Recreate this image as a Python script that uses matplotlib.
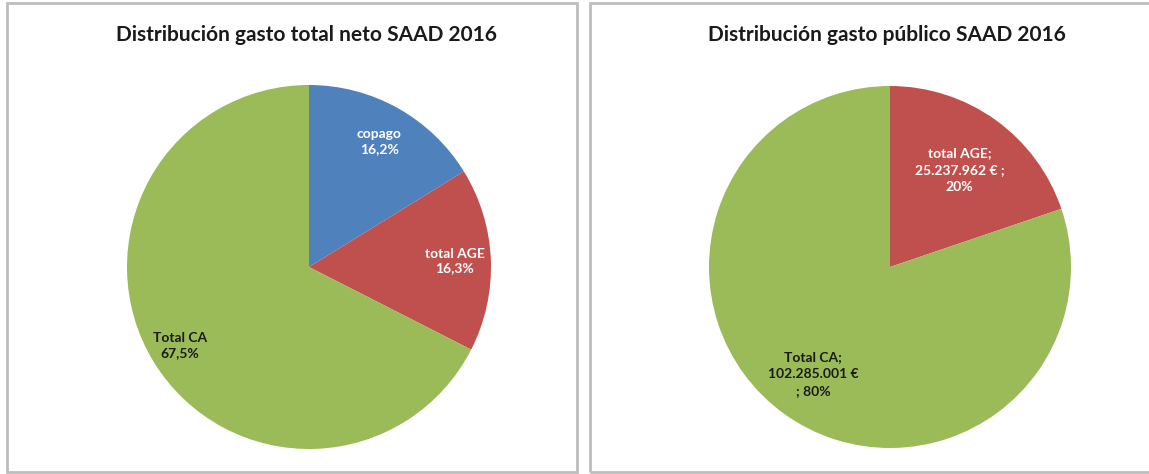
import numpy as np
import matplotlib
matplotlib.use('Agg')
import matplotlib.pyplot as plt
from matplotlib.patches import Rectangle

# Data
left_title = 'Distribución gasto total neto SAAD 2016'
left_names = ['copago', 'total AGE', 'Total CA']
left_pct = [16.2, 16.3, 67.5]

right_title = 'Distribución gasto público SAAD 2016'
right_names = ['total AGE', 'Total CA']
right_eur = [25237962, 102285001]

left_colors = ['#4F81BD', '#C0504D', '#9BBB59']
right_colors = ['#C0504D', '#9BBB59']

W, H = 1149, 474
fig = plt.figure(figsize=(W / 100, H / 100), dpi=100)
fig.patch.set_facecolor('white')

# panel frames
for x0, x1 in [(7, 577), (590, 1152)]:
    fig.add_artist(Rectangle((x0 / W, 1 - 472 / H), (x1 - x0) / W, (472 - 3) / H,
                             transform=fig.transFigure, fill=False,
                             edgecolor='#BDBDBD', linewidth=2))


def pie_axes(cx, cy, r):
    return fig.add_axes([(cx - r) / W, (H - cy - r) / H, 2 * r / W, 2 * r / H])


def finish(ax):
    ax.set_xlim(-1, 1)
    ax.set_ylim(-1, 1)
    ax.axis('off')


def spanish_int(v):
    return f'{v:,}'.replace(',', '.')


def place_labels(ax, wedges, texts, colors, dists, size, spacing):
    for w, t, c, d in zip(wedges, texts, colors, dists):
        ang = np.deg2rad((w.theta1 + w.theta2) / 2)
        ax.text(d * np.cos(ang), d * np.sin(ang), t, ha='center', va='center',
                color=c, fontsize=size, fontweight='bold', family='Lato',
                linespacing=spacing)


# left pie
ax1 = pie_axes(309, 267, 182)
w1, _ = ax1.pie(left_pct, colors=left_colors, startangle=90, counterclock=False,
                radius=1, wedgeprops=dict(linewidth=0))
finish(ax1)
lab1 = [f'{n}\n{p:.1f}%'.replace('.', ',') for n, p in zip(left_names, left_pct)]
place_labels(ax1, w1, lab1, ['white', 'white', '#1a1a1a'], [0.79, 0.80, 0.83], 10, 1.3)
fig.text(307 / W, 1 - 35 / H, left_title, ha='center', va='center',
         fontsize=15, fontweight='bold', family='Lato', color='#1a1a1a')

# right pie
ax2 = pie_axes(890, 267, 181)
w2, _ = ax2.pie(right_eur, colors=right_colors, startangle=90, counterclock=False,
                radius=1, wedgeprops=dict(linewidth=0))
finish(ax2)
tot = sum(right_eur)
pcts = [round(v / tot * 100) for v in right_eur]
lab2 = [f'{right_names[0]};\n{spanish_int(right_eur[0])} € ;\n{pcts[0]}%',
        f'{right_names[1]};\n{spanish_int(right_eur[1])} €\n; {pcts[1]}%']
place_labels(ax2, w2, lab2, ['white', '#1a1a1a'], [0.66, 0.73], 10, 1.5)
fig.text(887 / W, 1 - 35 / H, right_title, ha='center', va='center',
         fontsize=15, fontweight='bold', family='Lato', color='#1a1a1a')

fig.savefig('out.png', dpi=100, facecolor='white')
